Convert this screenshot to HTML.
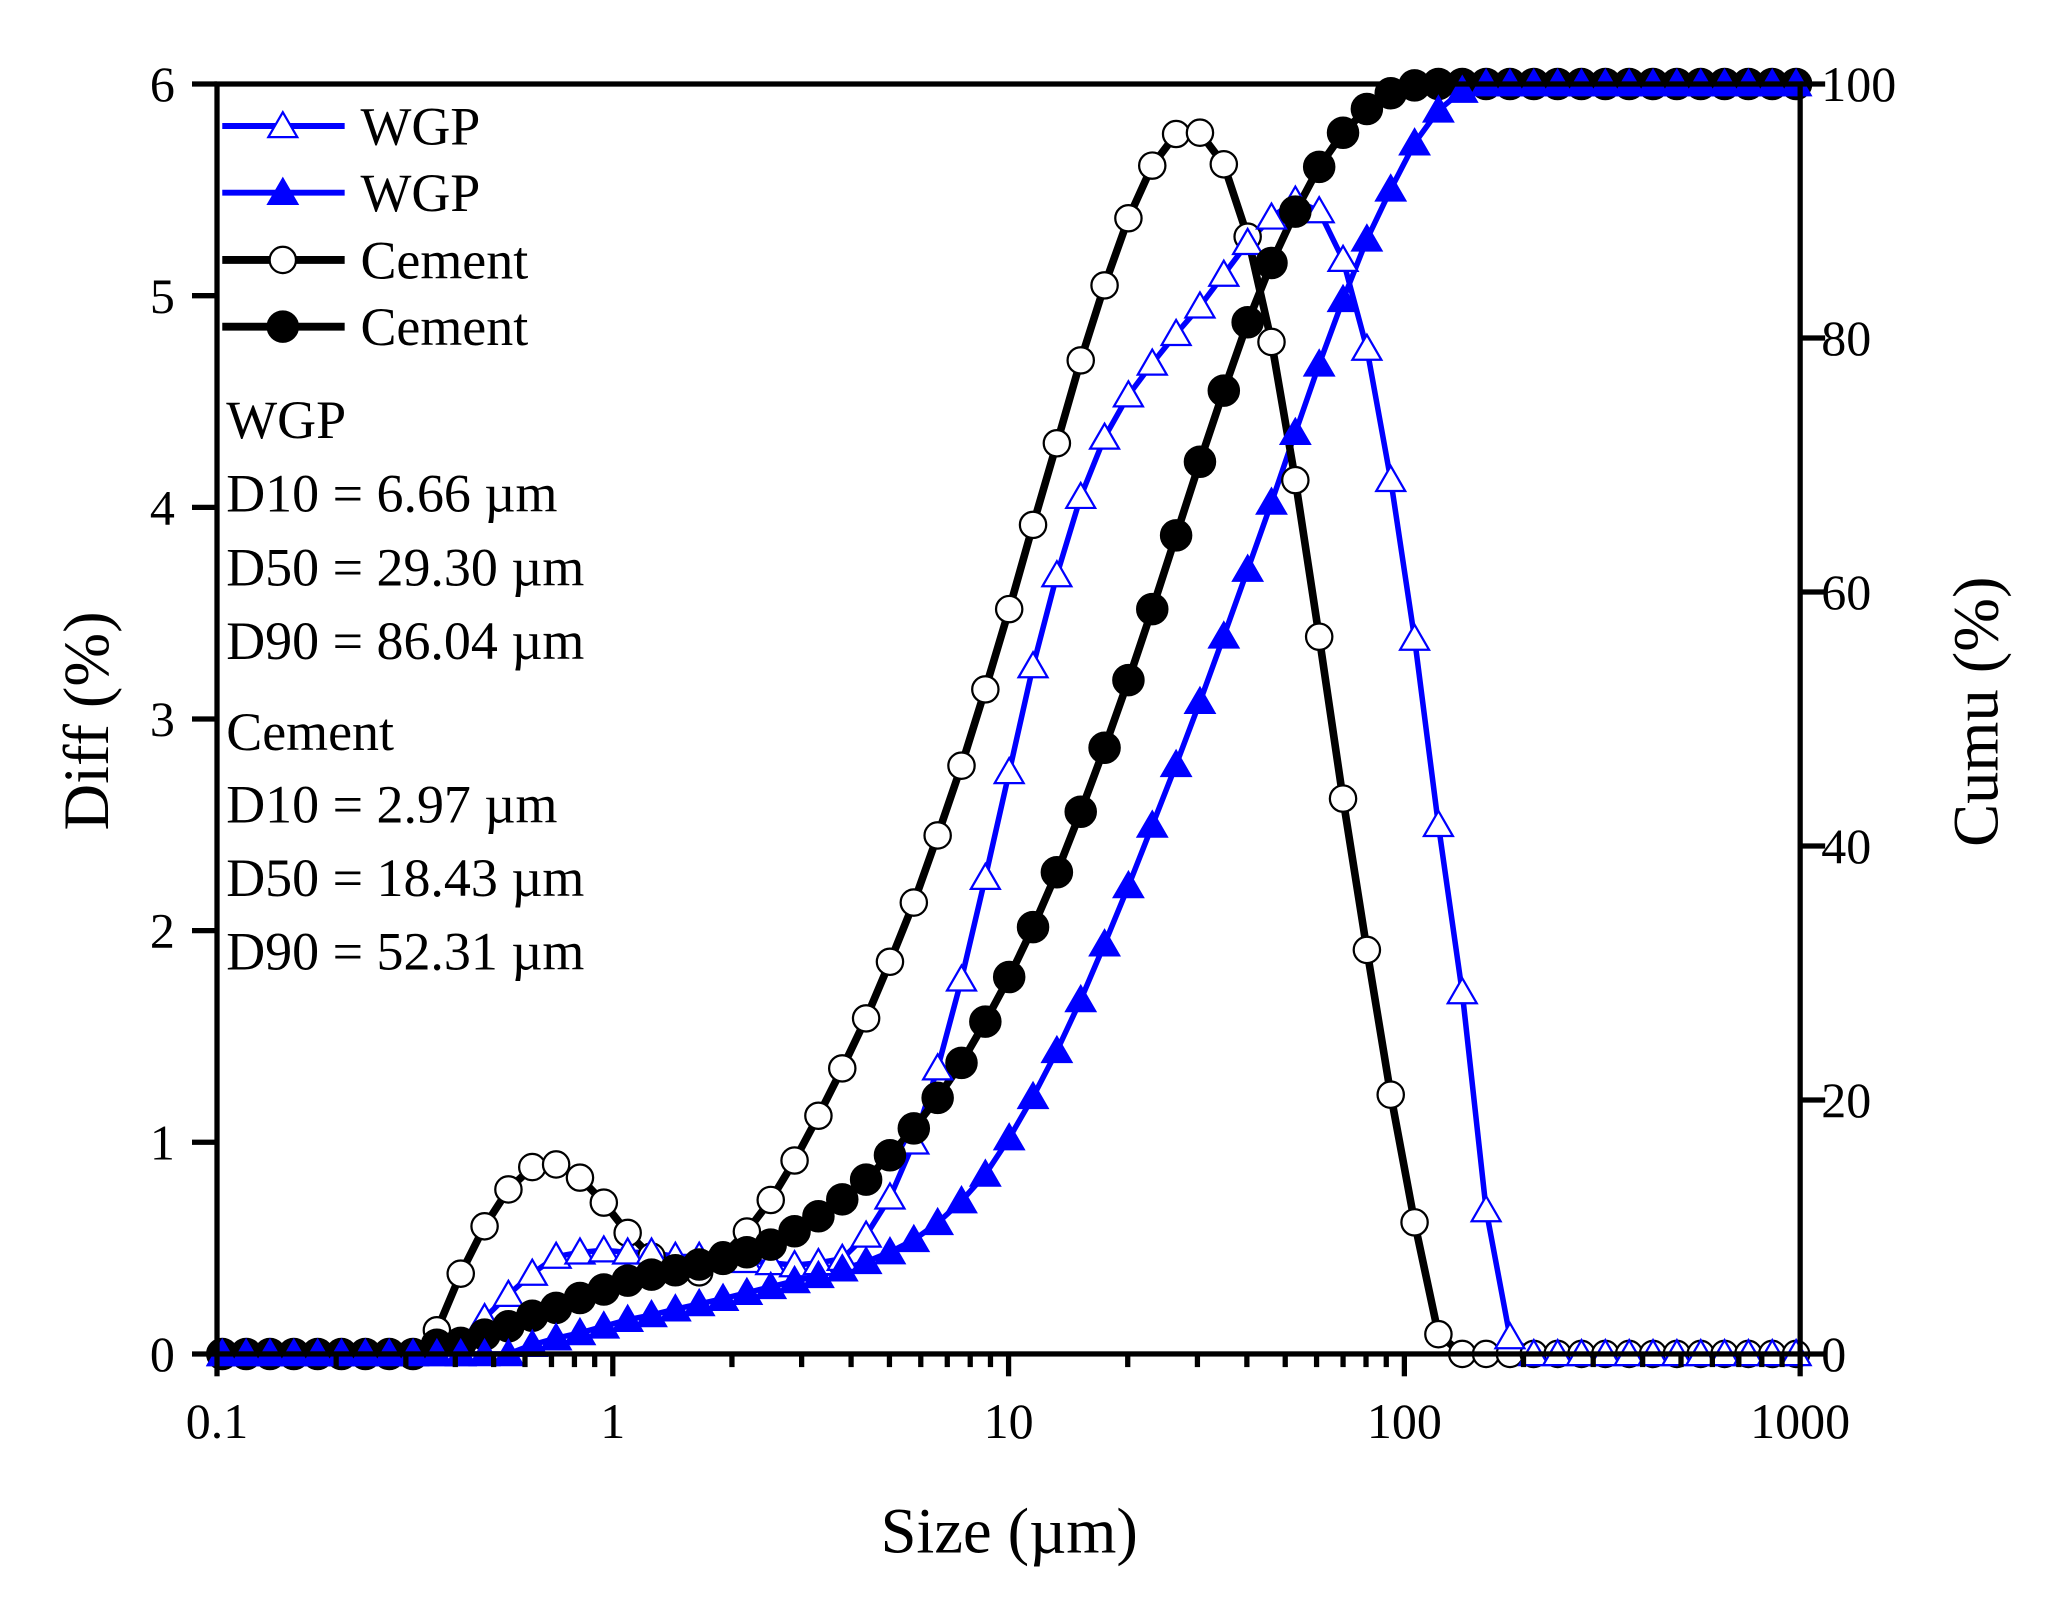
<!DOCTYPE html>
<html><head><meta charset="utf-8"><style>
html,body{margin:0;padding:0;background:#fff;}
svg{display:block;}
text{font-family:"Liberation Serif","Times New Roman",serif;fill:#000;}
</style></head><body>
<svg id="s" xmlns="http://www.w3.org/2000/svg" width="2066" height="1598" viewBox="0 0 2066 1598">
<rect width="2066" height="1598" fill="#fff"/>
<g id="g" transform="translate(2.5,1.1) scale(1.316)"></g>
</svg>
<script>
var g=document.getElementById('g');var NS='http://www.w3.org/2000/svg';
function el(t,a,txt){var e=document.createElementNS(NS,t);for(var k in a)e.setAttribute(k,a[k]);if(txt!==undefined)e.textContent=txt;g.appendChild(e);return e;}
var L=163,R=1366,T=63,B=1028;
function X(i){return 167+18.12*i;}
function fill(arr,n,v){while(arr.length<n)arr.push(v);return arr;}
var cd=[1028,1028,1028,1028,1028,1028,1028,1028,1028,1010,967,931,903,886,884,894,913,936,954,962,966,953,935,911,881,847,811,773,730,685,634,581,523,462,398,336,273,216,165,125,101,100,124,179,259,364,483,606,721,831,928,1013];
fill(cd,67,1028);
var wv=[0,0,0,0,0,0,0,0,0,0,0,.17,.28,.38,.46,.48,.49,.48,.48,.46,.46,.45,.44,.43,.42,.43,.45,.56,.74,1.0,1.35,1.77,2.25,2.75,3.25,3.68,4.05,4.33,4.53,4.68,4.82,4.95,5.1,5.25,5.37,5.45,5.4,5.17,4.75,4.13,3.38,2.5,1.71,.68,.08];
fill(wv,67,0);var wd=wv.map(function(v){return B-160.83*v;});
var cc=[1028,1028,1028,1028,1028,1028,1028,1028,1028,1021,1019.6,1013.3,1007,999,993,985.5,979,972.3,967.7,964.4,960,955.8,950.7,944.9,934.8,923.4,910.5,895.5,877,856.6,833.4,806.8,775.5,741.6,703.7,662,616,567.4,516,462,406,350,296,244,199,160,126,100,82,70,64];
fill(cc,67,63);
var wc=[1028,1028,1028,1028,1028,1028,1028,1028,1028,1028,1028,1028,1028,1021,1016,1012,1007,1002,998.4,994,990,986,981.5,977,972.5,968.6,963.6,958,950.6,941.3,928.4,911.8,891.6,864,832.6,797.7,759,716.6,672.4,626.4,580.3,532.4,482.7,432,381,328,276,227,181,143,108,83,68];
fill(wc,67,63);
function pts(a){return a.map(function(y,i){return X(i).toFixed(1)+','+y.toFixed(1);}).join(' ');}
el('polyline',{points:pts(wd),fill:'none',stroke:'#0000ff','stroke-width':4.2,'stroke-linejoin':'round'});
el('polyline',{points:pts(wc),fill:'none',stroke:'#0000ff','stroke-width':4.2,'stroke-linejoin':'round'});
el('polyline',{points:pts(cd),fill:'none',stroke:'#000','stroke-width':5.8,'stroke-linejoin':'round'});
el('polyline',{points:pts(cc),fill:'none',stroke:'#000','stroke-width':5.8,'stroke-linejoin':'round'});
function tri(x,y,filled){var w=11,h=9.5;return el('polygon',{points:x+','+(y-h-1)+' '+(x-w)+','+(y+h-1)+' '+(x+w)+','+(y+h-1),fill:filled?'#0000ff':'#fff',stroke:'#0000ff','stroke-width':1.7});}
function circ(x,y,filled){return el('circle',{cx:x,cy:y,r:filled?11.5:10,fill:filled?'#000':'#fff',stroke:'#000','stroke-width':1.7});}
for(var i=0;i<67;i++){circ(X(i),cd[i],false);}
for(var i=0;i<67;i++){tri(X(i),wd[i],false);}
for(var i=0;i<67;i++){circ(X(i),cc[i],true);}
for(var i=0;i<67;i++){tri(X(i),wc[i],true);}
el('rect',{x:L,y:T,width:R-L,height:B-T,fill:'none',stroke:'#000','stroke-width':4});
for(var v=0;v<=6;v++){var y=B-160.83*v;el('line',{x1:L-19,y1:y,x2:L,y2:y,stroke:'#000','stroke-width':4});
el('text',{x:131,y:y+13,'text-anchor':'end','font-size':38},String(v));}
for(var v=0;v<=100;v+=20){var y=B-9.65*v;el('line',{x1:R,y1:y,x2:R+19,y2:y,stroke:'#000','stroke-width':4});
el('text',{x:1382,y:y+13,'font-size':38},String(v));}
var labs=['0.1','1','10','100','1000'];
for(var d=0;d<=4;d++){var x=L+d*(R-L)/4;el('line',{x1:x,y1:B,x2:x,y2:B+17,stroke:'#000','stroke-width':4});
el('text',{x:x,y:1092,'text-anchor':'middle','font-size':38},labs[d]);
if(d<4)for(var m=2;m<=9;m++){var xm=x+Math.log10(m)*(R-L)/4;el('line',{x1:xm,y1:B,x2:xm,y2:B+10,stroke:'#000','stroke-width':4});}}
el('text',{x:765,y:1179,'text-anchor':'middle','font-size':49},'Size (\u00b5m)');
el('text',{x:0,y:0,'text-anchor':'middle','font-size':49,transform:'translate(80,547) rotate(-90)'},'Diff (%)');
el('text',{x:0,y:0,'text-anchor':'middle','font-size':49,transform:'translate(1516,540) rotate(-90)'},'Cumu (%)');
var ly=[94.9,145.6,196.7,247.4];var ln=['WGP','WGP','Cement','Cement'];
for(var k=0;k<4;k++){var blue=k<2;el('line',{x1:167,y1:ly[k],x2:260,y2:ly[k],stroke:blue?'#0000ff':'#000','stroke-width':blue?4.5:6});
if(blue)tri(213,ly[k],k==1);else circ(213,ly[k],k==3);
el('text',{x:272,y:ly[k]+14,'font-size':41},ln[k]);}
var an=[['WGP',332],['D10 = 6.66 \u00b5m',388],['D50 = 29.30 \u00b5m',444],['D90 = 86.04 \u00b5m',500],['Cement',569],['D10 = 2.97 \u00b5m',624],['D50 = 18.43 \u00b5m',680],['D90 = 52.31 \u00b5m',736]];
an.forEach(function(a){el('text',{x:170,y:a[1],'font-size':41},a[0]);});
</script>
</body></html>
